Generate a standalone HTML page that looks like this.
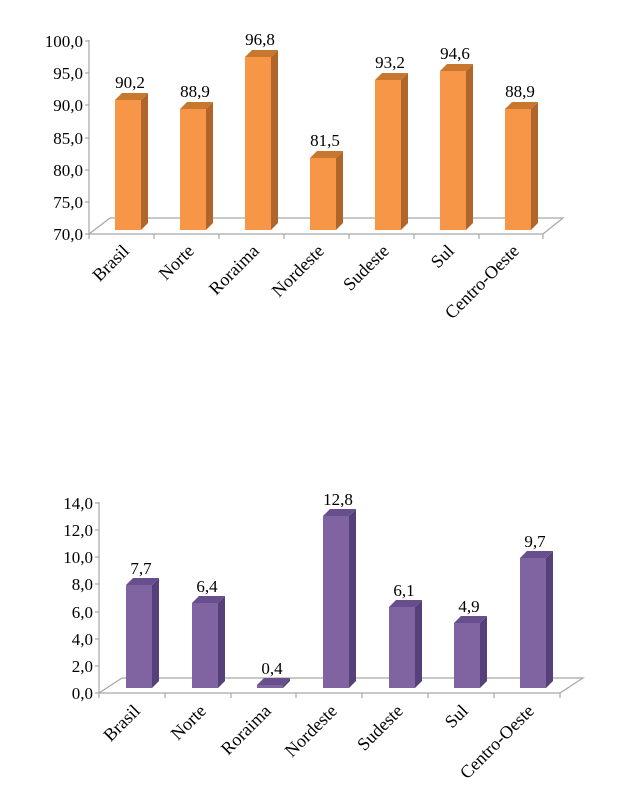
<!DOCTYPE html>
<html><head><meta charset="utf-8"><style>
html,body{margin:0;padding:0;background:#fff;}
svg{display:block;font-family:"Liberation Serif",serif;}
</style></head><body>
<svg width="620" height="806" viewBox="0 0 620 806" xmlns="http://www.w3.org/2000/svg">
<!-- Chart 1 -->
<g stroke="#a6a6a6" stroke-width="1.2" fill="none">
<line x1="89" y1="40" x2="89" y2="235"/>
<polyline points="110,218 563,218 543,234 89,234 110,218"/>
<line x1="89" y1="234" x2="89" y2="239"/><line x1="154" y1="234" x2="154" y2="239"/><line x1="219" y1="234" x2="219" y2="239"/><line x1="284" y1="234" x2="284" y2="239"/><line x1="349" y1="234" x2="349" y2="239"/><line x1="414" y1="234" x2="414" y2="239"/><line x1="479" y1="234" x2="479" y2="239"/><line x1="543" y1="234" x2="543" y2="239"/>
<line x1="85" y1="41" x2="89" y2="41"/><line x1="85" y1="73" x2="89" y2="73"/><line x1="85" y1="105" x2="89" y2="105"/><line x1="85" y1="138" x2="89" y2="138"/><line x1="85" y1="170" x2="89" y2="170"/><line x1="85" y1="202" x2="89" y2="202"/><line x1="85" y1="234" x2="89" y2="234"/>
</g>
<g font-size="17" text-anchor="end" fill="#000">
<text x="83" y="47">100,0</text><text x="83" y="79">95,0</text><text x="83" y="111">90,0</text><text x="83" y="144">85,0</text><text x="83" y="176">80,0</text><text x="83" y="208">75,0</text><text x="83" y="240">70,0</text>
</g>
<g>
<polygon points="141,100 148,93 148,223 141,230" fill="#B0652B"/><polygon points="115,100 122,93 148,93 141,100" fill="#C8772F"/><rect x="115" y="100" width="26" height="130" fill="#F79646"/>
<polygon points="206,109 213,102 213,223 206,230" fill="#B0652B"/><polygon points="180,109 187,102 213,102 206,109" fill="#C8772F"/><rect x="180" y="109" width="26" height="121" fill="#F79646"/>
<polygon points="271,57 278,50 278,223 271,230" fill="#B0652B"/><polygon points="245,57 252,50 278,50 271,57" fill="#C8772F"/><rect x="245" y="57" width="26" height="173" fill="#F79646"/>
<polygon points="336,158 343,151 343,223 336,230" fill="#B0652B"/><polygon points="310,158 317,151 343,151 336,158" fill="#C8772F"/><rect x="310" y="158" width="26" height="72" fill="#F79646"/>
<polygon points="401,80 408,73 408,223 401,230" fill="#B0652B"/><polygon points="375,80 382,73 408,73 401,80" fill="#C8772F"/><rect x="375" y="80" width="26" height="150" fill="#F79646"/>
<polygon points="466,71 473,64 473,223 466,230" fill="#B0652B"/><polygon points="440,71 447,64 473,64 466,71" fill="#C8772F"/><rect x="440" y="71" width="26" height="159" fill="#F79646"/>
<polygon points="531,109 538,102 538,223 531,230" fill="#B0652B"/><polygon points="505,109 512,102 538,102 531,109" fill="#C8772F"/><rect x="505" y="109" width="26" height="121" fill="#F79646"/>
</g>
<g font-size="17" text-anchor="middle">
<text x="130" y="88">90,2</text><text x="195" y="97">88,9</text><text x="260" y="45">96,8</text><text x="325" y="146">81,5</text><text x="390" y="68">93,2</text><text x="455" y="59">94,6</text><text x="520" y="97">88,9</text>
</g>
<g font-size="18" text-anchor="end">
<text transform="translate(130,252) rotate(-45)">Brasil</text>
<text transform="translate(195,252) rotate(-45)">Norte</text>
<text transform="translate(260,252) rotate(-45)">Roraima</text>
<text transform="translate(325,252) rotate(-45)">Nordeste</text>
<text transform="translate(390,252) rotate(-45)">Sudeste</text>
<text transform="translate(455,252) rotate(-45)">Sul</text>
<text transform="translate(520,252) rotate(-45)">Centro-Oeste</text>
</g>

<!-- Chart 2 -->
<g stroke="#a6a6a6" stroke-width="1.2" fill="none">
<line x1="99" y1="502" x2="99" y2="694"/>
<polyline points="122,678 583,678 560,693 99,693 122,678"/>
<line x1="99" y1="693" x2="99" y2="698"/><line x1="165" y1="693" x2="165" y2="698"/><line x1="231" y1="693" x2="231" y2="698"/><line x1="296" y1="693" x2="296" y2="698"/><line x1="362" y1="693" x2="362" y2="698"/><line x1="428" y1="693" x2="428" y2="698"/><line x1="494" y1="693" x2="494" y2="698"/><line x1="560" y1="693" x2="560" y2="698"/>
<line x1="95" y1="503" x2="99" y2="503"/><line x1="95" y1="530" x2="99" y2="530"/><line x1="95" y1="557" x2="99" y2="557"/><line x1="95" y1="584" x2="99" y2="584"/><line x1="95" y1="612" x2="99" y2="612"/><line x1="95" y1="639" x2="99" y2="639"/><line x1="95" y1="666" x2="99" y2="666"/><line x1="95" y1="693" x2="99" y2="693"/>
</g>
<g font-size="17" text-anchor="end">
<text x="93" y="509">14,0</text><text x="93" y="536">12,0</text><text x="93" y="563">10,0</text><text x="93" y="590">8,0</text><text x="93" y="618">6,0</text><text x="93" y="645">4,0</text><text x="93" y="672">2,0</text><text x="93" y="699">0,0</text>
</g>
<g>
<polygon points="152,585 159,578 159,681 152,688" fill="#56407A"/><polygon points="126,585 133,578 159,578 152,585" fill="#674E8C"/><rect x="126" y="585" width="26" height="103" fill="#8064A2"/>
<polygon points="218,603 225,596 225,681 218,688" fill="#56407A"/><polygon points="192,603 199,596 225,596 218,603" fill="#674E8C"/><rect x="192" y="603" width="26" height="85" fill="#8064A2"/>
<polygon points="283,685 290,678 290,681 283,688" fill="#56407A"/><polygon points="257,685 264,678 290,678 283,685" fill="#674E8C"/><rect x="257" y="685" width="26" height="3" fill="#8064A2"/>
<polygon points="349,516 356,509 356,681 349,688" fill="#56407A"/><polygon points="323,516 330,509 356,509 349,516" fill="#674E8C"/><rect x="323" y="516" width="26" height="172" fill="#8064A2"/>
<polygon points="415,607 422,600 422,681 415,688" fill="#56407A"/><polygon points="389,607 396,600 422,600 415,607" fill="#674E8C"/><rect x="389" y="607" width="26" height="81" fill="#8064A2"/>
<polygon points="480,623 487,616 487,681 480,688" fill="#56407A"/><polygon points="454,623 461,616 487,616 480,623" fill="#674E8C"/><rect x="454" y="623" width="26" height="65" fill="#8064A2"/>
<polygon points="546,558 553,551 553,681 546,688" fill="#56407A"/><polygon points="520,558 527,551 553,551 546,558" fill="#674E8C"/><rect x="520" y="558" width="26" height="130" fill="#8064A2"/>
</g>
<g font-size="17" text-anchor="middle">
<text x="141" y="574">7,7</text><text x="207" y="592">6,4</text><text x="272" y="674">0,4</text><text x="338" y="505">12,8</text><text x="404" y="596">6,1</text><text x="469" y="612">4,9</text><text x="535" y="547">9,7</text>
</g>
<g font-size="18" text-anchor="end">
<text transform="translate(141,712) rotate(-45)">Brasil</text>
<text transform="translate(207,712) rotate(-45)">Norte</text>
<text transform="translate(272,712) rotate(-45)">Roraima</text>
<text transform="translate(338,712) rotate(-45)">Nordeste</text>
<text transform="translate(404,712) rotate(-45)">Sudeste</text>
<text transform="translate(469,712) rotate(-45)">Sul</text>
<text transform="translate(535,712) rotate(-45)">Centro-Oeste</text>
</g>
</svg>
</body></html>
